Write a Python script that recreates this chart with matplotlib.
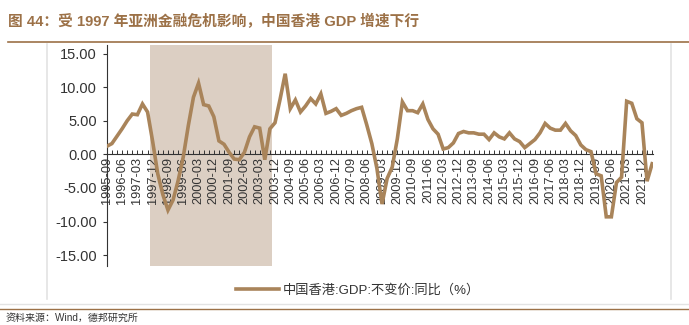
import matplotlib.pyplot as plt
from matplotlib.lines import Line2D

plt.rcParams['font.family'] = ['Liberation Sans', 'Noto Sans CJK SC']
plt.rcParams['axes.unicode_minus'] = False

# quarterly, 1995-09 .. 2022-06
gdp_yoy = [1.2, 1.6,
           2.7, 3.8, 5.0, 6.0,
           5.9, 7.5, 6.3, 1.9,
           -2.9, -6.0, -8.3, -6.8,
           -3.9, -0.4, 4.3, 8.5,
           10.6, 7.4, 7.2, 5.6,
           2.0, 1.5, 0.3, -0.7,
           -0.8, 0.3, 2.6, 4.1,
           3.9, -0.8, 3.8, 4.7,
           8.2, 12.0, 6.8, 8.1,
           6.3, 7.2, 8.3, 7.5,
           9.0, 6.1, 6.4, 6.8,
           5.8, 6.1, 6.5, 6.8,
           7.0, 4.4, 1.6, -2.1,
           -7.4, -3.6, -1.9, 2.3,
           7.8, 6.5, 6.5, 6.2,
           7.5, 5.2, 3.8, 3.0,
           0.8, 1.0, 1.7, 3.1,
           3.4, 3.2, 3.2, 3.0,
           3.0, 2.2, 3.2, 2.6,
           2.3, 3.2, 2.3, 1.9,
           1.0, 1.6, 2.2, 3.2,
           4.6, 3.9, 3.6, 3.6,
           4.6, 3.5, 2.8, 1.4,
           0.7, 0.4, -2.9, -3.2,
           -9.3, -9.3, -4.2, -3.4,
           7.9, 7.6, 5.3, 4.7,
           -4.0, -1.4]

start_year, start_q = 1995, 3
quarters = []
y, q = start_year, start_q
for _ in gdp_yoy:
    quarters.append('%d-%02d' % (y, q * 3))
    q += 1
    if q > 4:
        q = 1
        y += 1

# crisis shading: 1997-12 .. 2003-09
shade_start, shade_end = '1997-12', '2003-09'
yticks = [-15, -10, -5, 0, 5, 10, 15]

line_col = '#A9845A'
brown = '#9C7147'

fig = plt.figure(figsize=(6.89, 3.25), dpi=100)
ax = fig.add_axes([0.155, 0.182, 0.793, 0.680])

x = list(range(len(gdp_yoy)))
i0, i1 = quarters.index(shade_start), quarters.index(shade_end)
ax.axvspan(i0 - 0.5, i1 + 0.5, color='#DCCFC3', lw=0, zorder=0)
ax.plot(x, gdp_yoy, color=line_col, lw=2.6, solid_joinstyle='miter',
        label='中国香港:GDP:不变价:同比（%）', zorder=3)

ax.set_xlim(0, len(gdp_yoy) - 0.8)
ax.set_ylim(-16.6, 16.3)
ax.set_yticks(yticks)
ax.set_yticklabels(['%.2f' % v for v in yticks], fontsize=10.5, color='#333333')

ax.spines['top'].set_visible(False)
ax.spines['right'].set_visible(False)
ax.spines['bottom'].set_position(('data', 0))
ax.spines['left'].set_color('#333333')
ax.spines['bottom'].set_color('#333333')
ax.spines['left'].set_linewidth(0.8)
ax.tick_params(axis='y', length=3, width=0.8, color='#333333', pad=4)

ax.set_xticks(x[::3])
ax.set_xticklabels(quarters[::3], rotation=90, fontsize=9.2, color='#333333')
ax.set_xticks(x, minor=True)
ax.tick_params(axis='x', which='both', direction='in', length=3, width=0.7,
               color='#333333', pad=2)
for lab in ax.get_xticklabels():
    lab.set_verticalalignment('top')

leg = ax.legend(loc='upper center', bbox_to_anchor=(0.46, -0.03), frameon=False,
                fontsize=9.5, handlelength=3.2, handletextpad=0.3)
for t in leg.get_texts():
    t.set_color('#333333')

fig.text(0.012, 0.935, '图 44：受 1997 年亚洲金融危机影响，中国香港 GDP 增速下行',
         fontsize=10.6, fontweight='bold', color=brown, va='center')
fig.add_artist(Line2D([0.012, 1.0], [0.872, 0.872], color=brown, lw=1.2))
fig.add_artist(Line2D([0.068, 0.068], [0.08, 0.865], color='#E3E3E3', lw=1.2))
fig.add_artist(Line2D([0.974, 0.974], [0.08, 0.865], color='#E3E3E3', lw=1.2))
fig.add_artist(Line2D([0.0, 1.0], [0.064, 0.064], color='#E3E3E3', lw=1.0))
fig.add_artist(Line2D([0.0, 1.0], [0.049, 0.049], color=brown, lw=1.0))
fig.text(0.008, 0.022, '资料来源：Wind，德邦研究所', fontsize=7.2, color='#333333', va='center')

fig.savefig('out.png', dpi=100)
